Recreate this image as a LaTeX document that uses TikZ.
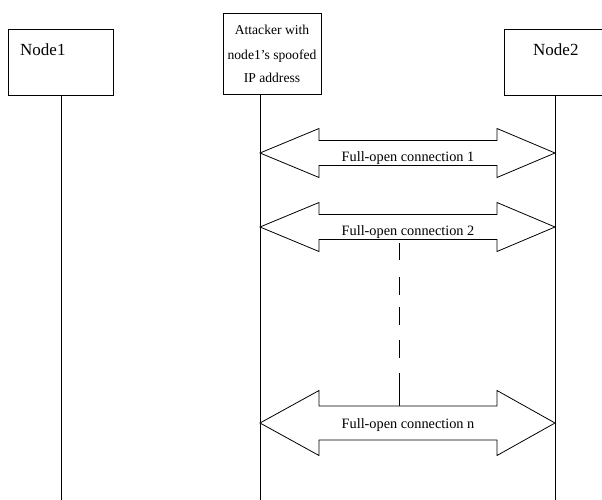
\documentclass[tikz,border=0pt]{standalone}
\usepackage{fontspec}
\setmainfont{Liberation Serif}
\usetikzlibrary{calc}

\tikzset{
  box/.style={draw=black, line width=0.8pt, fill=white, inner sep=0pt},
  life/.style={draw=black, line width=0.8pt},
  conn/.style={draw=black, line width=0.8pt, fill=white, line join=miter},
  nodetxt/.style={font=\fontsize{17}{20}\selectfont, inner sep=0pt},
  atttxt/.style={font=\fontsize{13.6}{16}\selectfont, inner sep=0pt},
  conntxt/.style={font=\fontsize{14.3}{17}\selectfont, inner sep=0pt, anchor=base},
  gapline/.style={draw=black, line width=0.8pt,
    dash pattern=on 0pt off 3.5pt on 17pt off 17pt on 18pt off 12pt on 18pt off 15pt on 18pt off 15pt on 40pt off 1pt}
}

% double-headed "full-open connection" arrow between two lifeline points
% #1 left tip, #2 right tip, #3 head half height, #4 shaft half height, #5 head length
\newcommand\fullopen[5]{%
  \path[conn] (#1) -- ++(#5,-#3) -- ++(0,#3-#4) -- ($(#2)+(-#5+1,-#4)$)
    -- ++(0,#4-#3) -- (#2) -- ++(-#5+1,#3) -- ++(0,#4-#3)
    -- ($(#1)+(#5,#4)$) -- ++(0,#3-#4) -- cycle;}

\begin{document}
\begin{tikzpicture}[x=1pt, y=-1pt]
  \useasboundingbox (0,0) rectangle (602,500);
  \clip (0,0) rectangle (602,500);

  % participant boxes
  \node[box, minimum width=105pt, minimum height=66pt] (n1) at (60.5,62) {};
  \node[box, minimum width=98pt, minimum height=81pt] (att) at (272,53.5) {};
  \node[box, minimum width=105pt, minimum height=66pt] (n2) at (556.5,62) {};

  \node[nodetxt, anchor=base west] (n1txt) at (20,56) {Node1};
  \node[nodetxt, anchor=base west] (n2txt) at (533,56) {Node2};
  \node[atttxt, anchor=base] (att1) at (272,35) {Attacker with};
  \node[atttxt, anchor=base] (att2) at (272,60) {node1's spoofed};
  \node[atttxt, anchor=base] (att3) at (272,83) {IP address};

  % lifelines
  \coordinate (n1end) at (61,500);
  \coordinate (attend) at (260,500);
  \coordinate (n2end) at (555,500);
  \draw[life] (n1.south -| n1end) -- (n1end);
  \draw[life] (att.south -| attend) -- (attend);
  \draw[life] (n2.south -| n2end) -- (n2end);

  % connection anchor points on the lifelines
  \coordinate (aL1) at (260,153);   \coordinate (aR1) at (555,153);
  \coordinate (aL2) at (260,227);   \coordinate (aR2) at (555,227);
  \coordinate (aLn) at (260,423);   \coordinate (aRn) at (555,423);

  % gap between connection 2 and connection n
  \coordinate (gtop) at (399,239.5);
  \coordinate (gbot) at (399,406);
  \draw[gapline] (gtop) -- (gbot);

  \fullopen{aL1}{aR1}{24.5}{12.5}{59}
  \fullopen{aL2}{aR2}{24.5}{12.5}{59}
  \fullopen{aLn}{aRn}{32.5}{17}{59}

  \node[conntxt] (c1) at (408,161) {Full-open connection 1};
  \node[conntxt] (c2) at (408,235) {Full-open connection 2};
  \node[conntxt] (cn) at (408,428.5) {Full-open connection n};
\end{tikzpicture}
\end{document}
